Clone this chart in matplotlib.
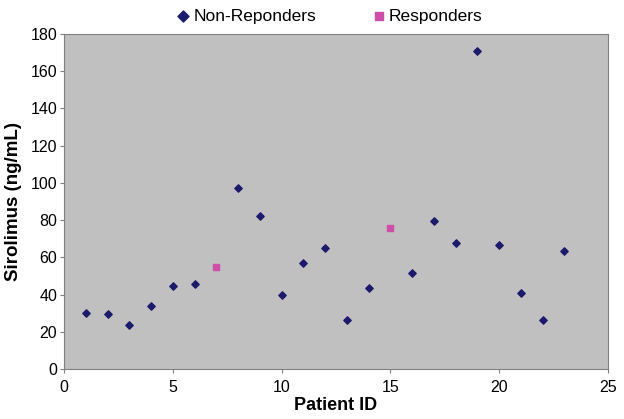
import matplotlib
matplotlib.use("Agg")
import matplotlib.pyplot as plt

plt.rcParams['font.family'] = ['Liberation Sans', 'DejaVu Sans']

# non-responders
nr_id = [1, 2, 3, 4, 5, 6, 8, 9, 10, 11, 12, 13, 14, 16, 17, 18, 19, 20, 21, 22, 23]
nr_val = [30, 29.5, 23.5, 34, 44.5, 45.5, 97.5, 82.5, 40, 57, 65, 26.5, 43.5, 51.5, 79.5, 68, 171, 66.5, 41, 26.5, 63.5]
# responders
r_id = [7, 15]
r_val = [55, 76]

fig = plt.figure(figsize=(6.24, 4.19), dpi=100)
ax = fig.add_axes([0.1026, 0.119, 0.8714, 0.8])
ax.set_facecolor('#c0c0c0')

ax.scatter(nr_id, nr_val, marker='D', s=14, color='#1c1a6b', label='Non-Reponders', zorder=3)
ax.scatter(r_id, r_val, marker='s', s=16, color='#cc4fa8', label='Responders', zorder=3)

ax.set_xlim(0, 25)
ax.set_ylim(0, 180)
ax.set_xticks(range(0, 26, 5))
ax.set_yticks(range(0, 181, 20))
ax.tick_params(labelsize=11.5, length=3, color='#808080')
ax.tick_params(axis='x', pad=5)
ax.tick_params(axis='y', pad=2)
for s in ax.spines.values():
    s.set_color('#808080')

ax.set_xlabel('Patient ID', fontsize=13, fontweight='bold', labelpad=1)
ax.set_ylabel('Sirolimus (ng/mL)', fontsize=13.5, fontweight='bold', labelpad=6)

ax.legend(loc='lower center', bbox_to_anchor=(0.485, 1.01), ncol=2, frameon=False,
          fontsize=12.5, handletextpad=0.0, columnspacing=3.0, borderaxespad=0,
          markerscale=1.5, handlelength=1.2)

fig.savefig('out.png', dpi=100)
